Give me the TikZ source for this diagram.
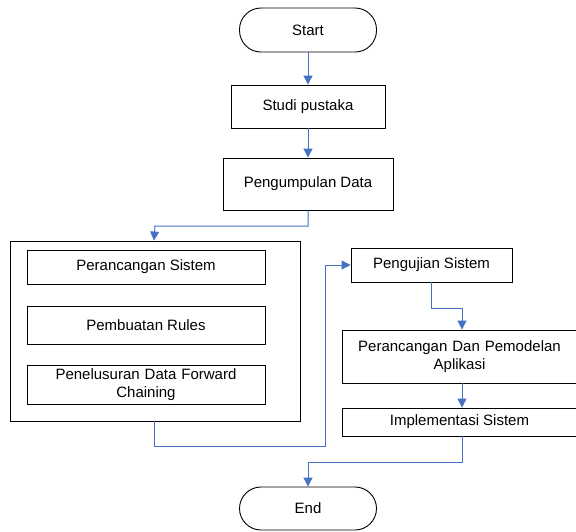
\documentclass[tikz,border=0pt]{standalone}
\usepackage{fontspec}
\setmainfont{Liberation Sans}
\usetikzlibrary{arrows.meta}
\definecolor{arrowblue}{RGB}{70,114,196}
\begin{document}
\begin{tikzpicture}[x=1pt,y=-1pt,
  box/.style={draw=black,line width=0.9pt,rectangle,inner sep=0pt,align=center,font=\fontsize{15}{18.5}\selectfont},
  term/.style={box,rounded corners=21.5pt},
  conn/.style={draw=arrowblue,line width=1pt,-{Triangle[width=9pt,length=9pt]}},
  line/.style={draw=arrowblue,line width=1pt}]
\useasboundingbox (0,0) rectangle (576,531);
\node[term,minimum width=137pt,minimum height=44pt] (start) at (308,30) {Start};
\node[box,minimum width=154pt,minimum height=43pt] (studi) at (308,106.5) {Studi pustaka};
\node[box,minimum width=170pt,minimum height=52pt] (kumpul) at (308,184) {Pengumpulan Data};
\node[box,minimum width=290pt,minimum height=180pt] (group) at (155,331) {};
\node[box,minimum width=238pt,minimum height=34pt] (rancang) at (146,267) {Perancangan Sistem};
\node[box,minimum width=238pt,minimum height=38pt] (rules) at (146,325) {Pembuatan Rules};
\node[box,minimum width=238pt,minimum height=39pt,text width=230pt] (telusur) at (146,384.5) {Penelusuran Data Forward\\Chaining};
\node[box,minimum width=161pt,minimum height=34pt] (uji) at (431.5,265) {Pengujian Sistem};
\node[box,minimum width=235pt,minimum height=53pt,text width=228pt] (model) at (459.5,356.5) {Perancangan Dan Pemodelan\\Aplikasi};
\node[box,minimum width=235pt,minimum height=28pt] (impl) at (459.5,422) {Implementasi Sistem};
\node[term,minimum width=137pt,minimum height=43pt] (end) at (308,508.5) {End};

\draw[conn] (start) -- (studi);
\draw[conn] (studi) -- (kumpul);
\draw[conn] (kumpul.south) |- (154,226) -- (154,226 -| group.north) -- (group.north -| 154,0);
\draw[conn] (group.south -| 154,0) -- (154,446) -- (325,446) |- (uji.west);
\draw[conn] (uji.south) |- (462,308) -- (462,308 |- model.north);
\draw[conn] (model.south -| 462,0) -- (impl.north -| 462,0);
\draw[conn] (impl.south -| 462,0) |- (308,462) -- (end.north);
\end{tikzpicture}
\end{document}
